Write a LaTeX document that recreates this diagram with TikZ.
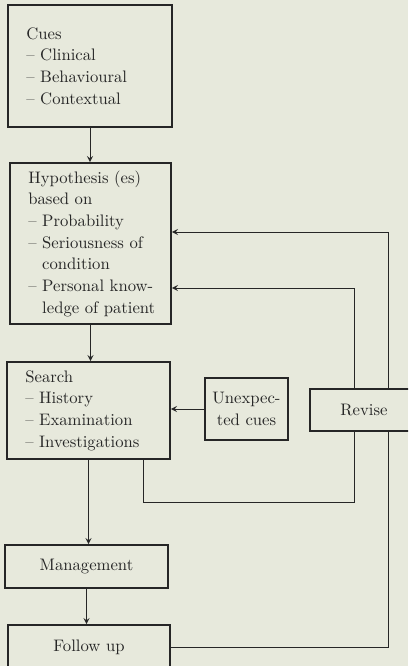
\documentclass[tikz,border=0pt]{standalone}
\usepackage{tikz}
\usetikzlibrary{calc}
\definecolor{paper}{HTML}{E7E9DC}
\definecolor{ink}{HTML}{262626}

\begin{document}
\begin{tikzpicture}[x=0.6pt, y=-0.6pt,
    box/.style={draw=ink, line width=1.1pt, text=ink,
      font=\fontsize{10}{13}\selectfont, inner xsep=11pt, inner ysep=0pt},
    lbox/.style={box, align=left},
    cbox/.style={box, align=center},
    flow/.style={draw=ink, line width=0.6pt},
    arr/.style={flow, ->, >=stealth}]

  % Page
  \clip (0,0) rectangle (408,666);
  \fill[paper] (0,0) rectangle (408,666);

  % --- Nodes ---
  % Cues
  \node[lbox, text width=76.4pt, minimum height=73.2pt]
    (cues) at (90,66) {Cues\\-- Clinical\\-- Behavioural\\-- Contextual};

  % Hypothesis
  \node[lbox, text width=74.6pt, minimum height=96.6pt]
    (hyp) at (90.5,243.5) {\mbox{Hypothesis (es)}\\based on\\-- Probability\\
      \mbox{-- Seriousness of}\\\phantom{-- }condition\\
      \mbox{-- Personal know-}\\\mbox{\phantom{-- }ledge of patient}};

  % Search
  \node[lbox, text width=75.8pt, minimum height=58.2pt]
    (search) at (88.5,410.5) {Search\\-- History\\-- Examination\\\mbox{-- Investigations}};

  % Unexpected cues
  \node[cbox, inner xsep=4pt, minimum width=49.8pt, minimum height=37.2pt]
    (unexp) at (246.5,409) {Unexpec-\\ted cues};

  % Revise
  \node[cbox, minimum width=64.8pt, minimum height=25.2pt]
    (revise) at (364,410) {Revise};

  % Management
  \node[cbox, minimum width=97.8pt, minimum height=25.8pt]
    (mgmt) at (86.5,566.5) {Management};

  % Follow up
  \node[cbox, minimum width=97.2pt, minimum height=26.4pt]
    (follow) at (89,647) {Follow up};

  % --- Main flow ---
  \draw[arr] (cues.south) -- (cues.south |- hyp.north);
  \draw[arr] (hyp.south) -- (hyp.south |- search.north);
  \draw[arr] (search.south) -- (search.south |- mgmt.north);
  \draw[arr] (mgmt.south) -- (mgmt.south |- follow.north);
  \draw[arr] (unexp.west) -- (unexp.west -| search.east);

  % --- Feedback loops ---
  \coordinate (outer) at (388,0);
  \coordinate (inner) at (354,0);
  \coordinate (loop) at (143,502);
  \draw[flow] (follow.east) -| (revise.south -| outer);
  \draw[flow] (search.south -| loop) -- (loop) -| (revise.south -| inner);
  \draw[arr] (revise.north -| outer) |- ($(hyp.east)+(0,-11.5)$);
  \draw[arr] (revise.north -| inner) |- ($(hyp.east)+(0,44.5)$);

\end{tikzpicture}
\end{document}
